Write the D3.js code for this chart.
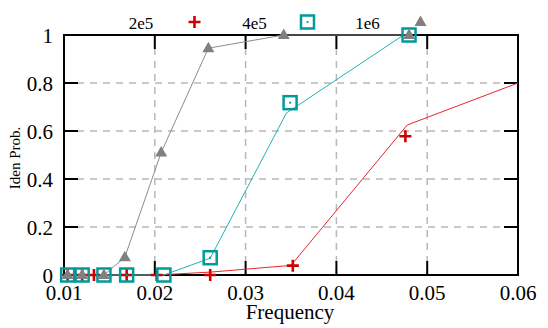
<!DOCTYPE html>
<html>
<head>
<meta charset="utf-8">
<script src="https://d3js.org/d3.v7.min.js"></script>
<style>
    body { margin: 0; background: #fff; }
</style>
</head>
<body>
<svg id="canvas" width="548" height="328"></svg>
<script>
/** Tick values */
const xTicks = [0.01, 0.02, 0.03, 0.04, 0.05, 0.06];
const yTicks = [0, 0.2, 0.4, 0.6, 0.8, 1];

/** Series labels */
const seriesNames = ['2e5', '4e5', '1e6'];

/** Measured points [frequency, probability] */
const points2e5 = [[0.0104, 0], [0.0120, 0], [0.0133, 0], [0.0169, 0], [0.0202, 0], [0.0261, 0], [0.0352, 0.039], [0.0476, 0.578]];
const points4e5 = [[0.0104, 0], [0.0120, 0], [0.0144, 0], [0.0169, 0], [0.0210, 0], [0.0261, 0.072], [0.0349, 0.718], [0.0480, 1.0]];
const points1e6 = [[0.0104, 0], [0.0120, 0], [0.0144, 0], [0.0167, 0.074], [0.0207, 0.51], [0.0259, 0.945], [0.0342, 1.0], [0.0480, 1.0]];

/** Curve lines */
const line2e5 = [[0.0104, 0], [0.0202, 0], [0.0261, 0.012], [0.0350, 0.040], [0.0478, 0.625], [0.06, 0.8]];
const line4e5 = [[0.0104, 0], [0.0210, 0], [0.0261, 0.07], [0.0345, 0.675], [0.0474, 1.0]];
const line1e6 = [[0.0104, 0], [0.0144, 0], [0.0167, 0.074], [0.0207, 0.51], [0.0259, 0.945], [0.0342, 1.0], [0.0480, 1.0]];

let canvas = d3.select('#canvas');

/** Serif font like the original */
const serif = "'Liberation Serif', 'Times New Roman', Times, 'DejaVu Serif', serif";

/** Plot area */
const plotLeft = 64, plotRight = 518, plotTop = 35, plotBottom = 275;

let xScale = d3.scaleLinear().domain([0.01, 0.06]).range([plotLeft, plotRight]);
let yScale = d3.scaleLinear().domain([0, 1]).range([plotBottom, plotTop]);

/** Grid lines (dashed) */
canvas.append('g')
    .selectAll('line')
    .data(xTicks.slice(1, -1))
    .enter()
    .append('line')
    .attr('x1', d => xScale(d)).attr('x2', d => xScale(d))
    .attr('y1', plotTop).attr('y2', plotBottom)
    .attr('stroke', '#b8b8b8').attr('stroke-width', 1.5)
    .attr('stroke-dasharray', '7,6');

canvas.append('g')
    .selectAll('line')
    .data(yTicks.slice(1, -1))
    .enter()
    .append('line')
    .attr('x1', plotLeft).attr('x2', plotRight)
    .attr('y1', d => yScale(d)).attr('y2', d => yScale(d))
    .attr('stroke', '#b8b8b8').attr('stroke-width', 1.5)
    .attr('stroke-dasharray', '7,6');

/** Ticks on all four sides, pointing inward */
const tickLen = 14;
let ticks = canvas.append('g').attr('stroke', '#000').attr('stroke-width', 2);
xTicks.slice(1, -1).forEach(t => {
    ticks.append('line').attr('x1', xScale(t)).attr('x2', xScale(t)).attr('y1', plotBottom).attr('y2', plotBottom - tickLen);
    ticks.append('line').attr('x1', xScale(t)).attr('x2', xScale(t)).attr('y1', plotTop).attr('y2', plotTop + tickLen);
});
yTicks.slice(1, -1).forEach(t => {
    ticks.append('line').attr('x1', plotLeft).attr('x2', plotLeft + tickLen).attr('y1', yScale(t)).attr('y2', yScale(t));
    ticks.append('line').attr('x1', plotRight).attr('x2', plotRight - tickLen).attr('y1', yScale(t)).attr('y2', yScale(t));
});

/** Border */
canvas.append('rect')
    .attr('x', plotLeft).attr('y', plotTop)
    .attr('width', plotRight - plotLeft).attr('height', plotBottom - plotTop)
    .attr('fill', 'none').attr('stroke', '#000').attr('stroke-width', 2);

/** Tick labels */
canvas.append('g')
    .selectAll('text')
    .data(xTicks)
    .enter()
    .append('text')
    .attr('x', d => xScale(d))
    .attr('y', 299.5)
    .attr('text-anchor', 'middle')
    .attr('font-family', serif)
    .attr('font-size', 21)
    .text(d => d.toFixed(2));

canvas.append('g')
    .selectAll('text')
    .data(yTicks)
    .enter()
    .append('text')
    .attr('x', 53)
    .attr('y', d => yScale(d) + 7.5)
    .attr('text-anchor', 'end')
    .attr('font-family', serif)
    .attr('font-size', 21)
    .text(d => d3.format('~g')(d));

/** Axis titles */
canvas.append('text')
    .attr('x', 290).attr('y', 318.5)
    .attr('text-anchor', 'middle')
    .attr('font-family', serif)
    .attr('font-size', 21)
    .text('Frequency');

canvas.append('text')
    .attr('transform', 'translate(20,158) rotate(-90)')
    .attr('text-anchor', 'middle')
    .attr('font-family', serif)
    .attr('font-size', 15)
    .text('Iden Prob.');

/** Lines */
let lineGen = d3.line().x(d => xScale(d[0])).y(d => yScale(d[1]));
const lineColors = ['#e8262b', '#20b2b2', '#8c8c8c'];
[line2e5, line4e5, line1e6].forEach((l, i) => {
    canvas.append('path')
        .attr('d', lineGen(l))
        .attr('fill', 'none')
        .attr('stroke', lineColors[i])
        .attr('stroke-width', 1);
});

/** Marker drawing */
const drawPlus = (g, x, y) => {
    g.append('path')
        .attr('d', `M${x - 6},${y}H${x + 6}M${x},${y - 6}V${y + 6}`)
        .attr('stroke', '#d00000').attr('stroke-width', 2.6).attr('fill', 'none');
};
const drawSquare = (g, x, y) => {
    g.append('rect')
        .attr('x', x - 6.5).attr('y', y - 6.5).attr('width', 13).attr('height', 13)
        .attr('fill', 'none').attr('stroke', '#009a9a').attr('stroke-width', 2.5);
    g.append('circle').attr('cx', x).attr('cy', y).attr('r', 1.1).attr('fill', '#009a9a');
};
const drawTriangle = (g, x, y) => {
    g.append('path')
        .attr('d', `M${x},${y - 6.5}L${x + 6},${y + 4}L${x - 6},${y + 4}Z`)
        .attr('fill', '#808080');
};

let markers = canvas.append('g');
points2e5.forEach(p => drawPlus(markers, xScale(p[0]), yScale(p[1])));
points4e5.forEach(p => drawSquare(markers, xScale(p[0]), yScale(p[1])));
points1e6.forEach(p => drawTriangle(markers, xScale(p[0]), yScale(p[1])));

/** Legend on top */
const legendText = [141, 254.5, 367.5];
const legendMark = [194.5, 307.5, 420.5];
const markFns = [drawPlus, drawSquare, drawTriangle];
let legend = canvas.append('g');
seriesNames.forEach((name, i) => {
    legend.append('text')
        .attr('x', legendText[i]).attr('y', 28.5)
        .attr('text-anchor', 'middle')
        .attr('font-family', serif)
        .attr('font-size', 17)
        .text(name);
    markFns[i](legend, legendMark[i], 22);
});
</script>
</body>
</html>
